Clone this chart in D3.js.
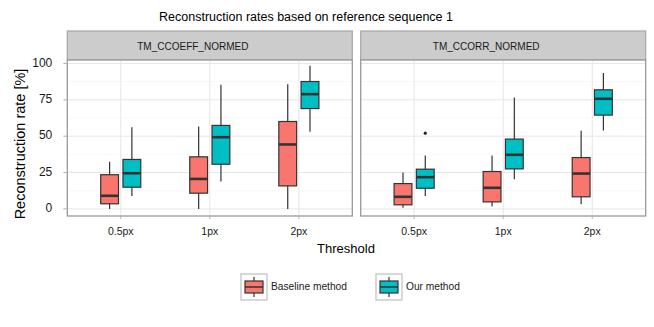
<!DOCTYPE html>
<html>
<head>
<meta charset="utf-8">
<script src="https://cdn.jsdelivr.net/npm/d3@7"></script>
<style>
  body { margin: 0; background: #fff; }
  svg { font-family: "Liberation Sans", Arial, sans-serif; }
</style>
</head>
<body>
<svg id="chart" width="654" height="327"></svg>
<script>
// ---- data ----
const panels = ["TM_CCOEFF_NORMED", "TM_CCORR_NORMED"];
const thresholds = ["0.5px", "1px", "2px"];
const methods = ["Baseline method", "Our method"];
const colors = ["#F8766D", "#00BFC4"];
const yTicks = [0, 25, 50, 75, 100];

// [min, q1, median, q3, max] per threshold
const ccoeffBaseline = [[0, 3.5, 9, 23.5, 32.5], [0, 10.8, 20.6, 35.8, 56.7], [0, 15.8, 44.3, 60.1, 85.8]];
const ccoeffOurs     = [[8.9, 14.9, 24.5, 34, 56.2], [18.8, 30.7, 49.3, 57.4, 85.3], [53, 69, 78.9, 87.6, 98.4]];
const ccorrBaseline  = [[0.7, 2.8, 8.3, 17.4, 25], [1.6, 4.8, 14.5, 25.7, 36.7], [3.2, 8.3, 24.3, 35.3, 53.7]];
const ccorrOurs      = [[8.9, 14.2, 21.8, 27.3, 36.7], [20.4, 27.5, 37.2, 48, 76.6], [53.9, 64.5, 75.7, 81.9, 93.4]];
const ccorrOursOutliers = [[52.1], [], []];

const panelData = [
  [ccoeffBaseline, ccoeffOurs, [[], [], []], [[], [], []]],
  [ccorrBaseline, ccorrOurs, [[], [], []], ccorrOursOutliers]
];

// ---- layout ----
const svg = d3.select("#chart");
const panelX = [[67.3, 352.3], [360.7, 645.7]];
const plotTop = 60, plotBottom = 216, stripTop = 31;

const y = d3.scaleLinear().domain([-4.9, 102.4]).range([plotBottom, plotTop]);

// title
svg.append("text")
  .attr("x", 306).attr("y", 21)
  .attr("text-anchor", "middle")
  .attr("font-size", 12.5)
  .text("Reconstruction rates based on reference sequence 1");

panels.forEach((name, pi) => {
  const [x0, x1] = panelX[pi];
  const x = d3.scalePoint().domain(thresholds).range([x0, x1]).padding(0.6);
  const step = x.step();
  const g = svg.append("g");

  // strip
  g.append("rect")
    .attr("x", x0).attr("y", stripTop)
    .attr("width", x1 - x0).attr("height", plotTop - stripTop)
    .attr("fill", "#cccccc").attr("stroke", "#a6a6a6").attr("stroke-width", 1.2);
  g.append("text")
    .attr("x", (x0 + x1) / 2 - 17).attr("y", 47)
    .attr("text-anchor", "middle").attr("dominant-baseline", "middle")
    .attr("font-size", 10).attr("fill", "#1a1a1a")
    .text(name);

  // panel background
  g.append("rect")
    .attr("x", x0).attr("y", plotTop)
    .attr("width", x1 - x0).attr("height", plotBottom - plotTop)
    .attr("fill", "#fff");

  // minor grid
  const minor = d3.range(-12.5, 112.5, 25).filter(v => y(v) > plotTop && y(v) < plotBottom);
  g.selectAll(".minor").data(minor).join("line")
    .attr("x1", x0).attr("x2", x1)
    .attr("y1", d => y(d)).attr("y2", d => y(d))
    .attr("stroke", "#f2f2f2").attr("stroke-width", 0.6);
  // major grid
  g.selectAll(".hmajor").data(yTicks).join("line")
    .attr("x1", x0).attr("x2", x1)
    .attr("y1", d => y(d)).attr("y2", d => y(d))
    .attr("stroke", "#e6e6e6").attr("stroke-width", 1);
  g.selectAll(".vmajor").data(thresholds).join("line")
    .attr("x1", d => x(d)).attr("x2", d => x(d))
    .attr("y1", plotTop).attr("y2", plotBottom)
    .attr("stroke", "#e6e6e6").attr("stroke-width", 1);

  // boxes
  const offsets = [-0.125, 0.125];
  const boxW = 0.2 * step;
  methods.forEach((m, mi) => {
    const stats = panelData[pi][mi];
    const outs = panelData[pi][mi + 2];
    thresholds.forEach((t, ti) => {
      const [mn, q1, md, q3, mx] = stats[ti];
      const cx = x(t) + offsets[mi] * step;
      g.append("line")
        .attr("x1", cx).attr("x2", cx)
        .attr("y1", y(mx)).attr("y2", y(mn))
        .attr("stroke", "#333").attr("stroke-width", 1.2);
      g.append("rect")
        .attr("x", cx - boxW / 2).attr("width", boxW)
        .attr("y", y(q3)).attr("height", y(q1) - y(q3))
        .attr("fill", colors[mi]).attr("stroke", "#333").attr("stroke-width", 1.2);
      g.append("line")
        .attr("x1", cx - boxW / 2).attr("x2", cx + boxW / 2)
        .attr("y1", y(md)).attr("y2", y(md))
        .attr("stroke", "#333").attr("stroke-width", 2.6);
      outs[ti].forEach(o => {
        g.append("circle")
          .attr("cx", cx).attr("cy", y(o)).attr("r", 1.6)
          .attr("fill", "#222");
      });
    });
  });

  // panel border
  g.append("rect")
    .attr("x", x0).attr("y", plotTop)
    .attr("width", x1 - x0).attr("height", plotBottom - plotTop)
    .attr("fill", "none").attr("stroke", "#999").attr("stroke-width", 1.3);

  // x axis
  g.selectAll(".xtick").data(thresholds).join("line")
    .attr("x1", d => x(d)).attr("x2", d => x(d))
    .attr("y1", plotBottom).attr("y2", plotBottom + 3)
    .attr("stroke", "#b3b3b3");
  g.selectAll(".xlab").data(thresholds).join("text")
    .attr("x", d => x(d)).attr("y", 235)
    .attr("text-anchor", "middle")
    .attr("font-size", 10.5).attr("fill", "#1a1a1a")
    .text(d => d);

  // y axis (left panel only)
  if (pi === 0) {
    g.selectAll(".ytick").data(yTicks).join("line")
      .attr("x1", x0 - 4).attr("x2", x0)
      .attr("y1", d => y(d)).attr("y2", d => y(d))
      .attr("stroke", "#b3b3b3");
    g.selectAll(".ylab").data(yTicks).join("text")
      .attr("x", x0 - 15).attr("y", d => y(d))
      .attr("text-anchor", "end").attr("dominant-baseline", "middle")
      .attr("font-size", 12).attr("fill", "#1a1a1a")
      .text(d => d);
  }
});

// axis titles
svg.append("text")
  .attr("x", 346).attr("y", 253)
  .attr("text-anchor", "middle")
  .attr("font-size", 13)
  .text("Threshold");
svg.append("text")
  .attr("transform", "translate(25,144) rotate(-90)")
  .attr("text-anchor", "middle")
  .attr("font-size", 14.5)
  .text("Reconstruction rate [%]");

// legend
const legendX = [241, 376];
methods.forEach((m, mi) => {
  const lx = legendX[mi], ly = 274;
  const lg = svg.append("g");
  lg.append("rect")
    .attr("x", lx).attr("y", ly).attr("width", 26).attr("height", 26)
    .attr("fill", "#fff").attr("stroke", "#cccccc").attr("stroke-width", 1.5);
  const cx = lx + 13;
  lg.append("line")
    .attr("x1", cx).attr("x2", cx).attr("y1", ly + 3).attr("y2", ly + 23)
    .attr("stroke", "#333").attr("stroke-width", 1.2);
  lg.append("rect")
    .attr("x", lx + 4).attr("y", ly + 7).attr("width", 18).attr("height", 12)
    .attr("fill", colors[mi]).attr("stroke", "#333").attr("stroke-width", 1.2);
  lg.append("line")
    .attr("x1", lx + 4).attr("x2", lx + 22).attr("y1", ly + 13).attr("y2", ly + 13)
    .attr("stroke", "#333").attr("stroke-width", 1.5);
  lg.append("text")
    .attr("x", lx + 30).attr("y", ly + 13)
    .attr("dominant-baseline", "middle")
    .attr("font-size", 10.2).attr("fill", "#1a1a1a")
    .text(m);
});
</script>
</body>
</html>
